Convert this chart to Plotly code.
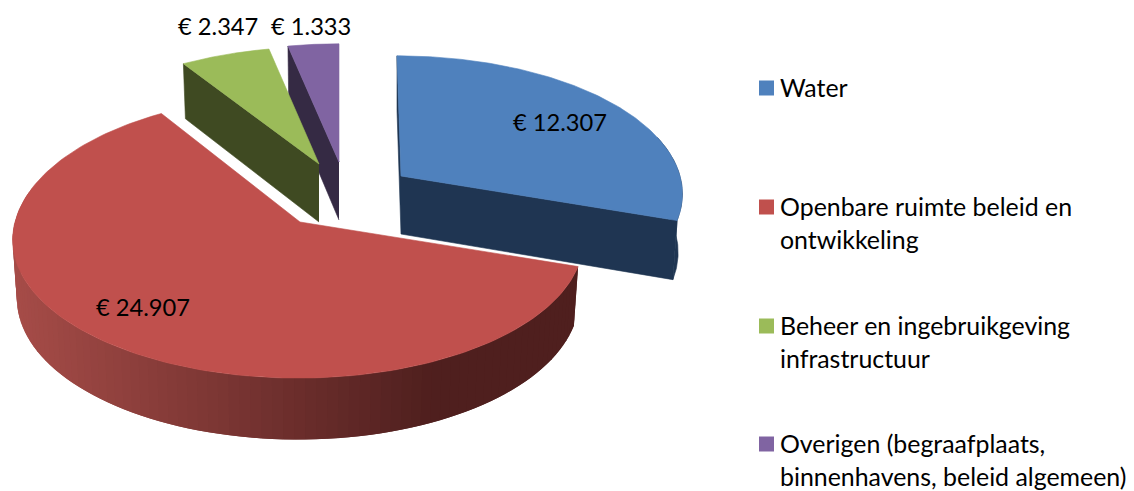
import numpy as np
import plotly.graph_objects as go

# --- data ---
categories = ["Water", "Openbare ruimte beleid en ontwikkeling",
              "Beheer en ingebruikgeving infrastructuur",
              "Overigen (begraafplaats, binnenhavens, beleid algemeen)"]
values = [12307, 24907, 2347, 1333]
legend_lines = [["Water"], ["Openbare ruimte beleid en", "ontwikkeling"],
                ["Beheer en ingebruikgeving", "infrastructuur"],
                ["Overigen (begraafplaats,", "binnenhavens, beleid algemeen)"]]
top_colors = ["#4f81bd", "#c0504d", "#9bbb59", "#8064a2"]
side_colors = ["#1f3552", "#4f1f1e", "#3f4a22", "#352a44"]

# --- layout of the exploded 3D pie (projection parameters, in pixels) ---
W, H = 1134, 491
RX, RY, PERSP, DEPTH, BOTTOM_SHRINK = 283.0, 135.8, 0.13, 58.0, 0.985
ARC_CENTER = [(397, 176), (298, 222), (320, 167), (339, 164)]
APEX = [(401, 176), (300, 222), (319, 164), (339, 162)]
BACK_STRETCH = [0.0, 0.05, 0.0, 0.0]
LABEL_POS = [(559.5, 121.5), (143, 306.5), (217.5, 25.5), (310.5, 25.5)]
SWATCH_X, TEXT_X, LINE_H = 766.5, 780, 33.5
LEGEND_Y = [88, 207, 326, 444]
TEXT_DY = -1.5
FONT = "Lato, Carlito, Calibri, sans-serif"
LABEL_SIZE = 23.7
LEGEND_SIZE = 24.9

total = sum(values)
edges = np.concatenate([[0], np.cumsum(values)]) / total * 2 * np.pi


def top(t, c, i=0):
    u, v = np.sin(t), np.cos(t)
    s = 1 / (1 + PERSP * v)
    stretch = 1 + BACK_STRETCH[i] * (v > 0)
    return c[0] + RX * u * s, c[1] - RY * v * s * stretch


def bottom(t, c, i=0):
    u, v = np.sin(t), np.cos(t)
    s = 1 / (1 + PERSP * v)
    stretch = 1 + BACK_STRETCH[i] * (v > 0)
    return (c[0] + RX * u * s * BOTTOM_SHRINK,
            c[1] - RY * v * s * stretch + DEPTH * (1 - 0.06 * v))


def poly(fig, xs, ys, color, lw=0.6):
    fig.add_trace(go.Scatter(
        x=list(xs), y=list(ys), mode="lines", fill="toself", fillcolor=color,
        line=dict(color=color, width=lw), hoverinfo="skip", showlegend=False))


def lerp_color(a, b, f):
    return "rgb(%d,%d,%d)" % tuple(int(round(a[i] + (b[i] - a[i]) * f)) for i in range(3))


fig = go.Figure()


def cut_face(i, t):
    ac, ap = ARC_CENTER[i], APEX[i]
    x1, y1 = top(t, ac, i)
    x2, y2 = bottom(t, ac, i)
    poly(fig, [ap[0], x1, x2, ap[0]], [ap[1], y1, y2, ap[1] + DEPTH], side_colors[i])


def slice_top(i):
    ac, ap = ARC_CENTER[i], APEX[i]
    t = np.linspace(edges[i], edges[i + 1], 160)
    x, y = top(t, ac, i)
    poly(fig, [ap[0], *x, ap[0]], [ap[1], *y, ap[1]], top_colors[i])


def wall(i, t0, t1):
    ts = np.linspace(t0, t1, 60)
    xa, ya = top(ts, ARC_CENTER[i], i)
    xb, yb = bottom(ts, ARC_CENTER[i], i)
    poly(fig, [*xa, *xb[::-1]], [*ya, *yb[::-1]], side_colors[i])


def gradient_wall(i, t0, t1, n=90):
    # painted from the left (light) end to the right, each strip overlapping the
    # next one so that no anti-aliased seams appear
    ac = ARC_CENTER[i]
    ts = np.linspace(t1, t0, n + 1)
    for k in range(n):
        seg = np.linspace(ts[k], ts[min(k + 2, n)], 6)
        xa, ya = top(seg, ac, i)
        xb, yb = bottom(seg, ac, i)
        xm = (xa[0] + xa[2] + xb[0] + xb[2]) / 4
        f = np.clip((xm - 15) / (430 - 15), 0, 1)
        poly(fig, [*xa, *xb[::-1]], [*ya, *yb[::-1]],
             lerp_color((166, 76, 72), (79, 31, 30), f), lw=0)


# purple and green (back), then blue, then red in front
cut_face(3, edges[3])
slice_top(3)
cut_face(2, edges[2])
slice_top(2)
cut_face(0, edges[0])
cut_face(0, edges[1])
wall(0, np.pi / 2 - 0.3, edges[1])
slice_top(0)
gradient_wall(1, edges[1], 3 * np.pi / 2 + 0.25)
slice_top(1)

# legend swatches
fig.add_trace(go.Scatter(
    x=[SWATCH_X] * 4, y=LEGEND_Y, mode="markers",
    marker=dict(symbol="square", size=15, color=top_colors, line=dict(width=0)),
    hoverinfo="skip", showlegend=False))

annotations = []
for v, (lx, ly) in zip(values, LABEL_POS):
    annotations.append(dict(x=lx, y=ly, text="€ " + f"{v:,}".replace(",", "."),
                            showarrow=False, xanchor="center", yanchor="middle",
                            font=dict(family=FONT, size=LABEL_SIZE, color="#000000")))
for lines, y0 in zip(legend_lines, LEGEND_Y):
    for k, line in enumerate(lines):
        annotations.append(dict(x=TEXT_X, y=y0 + TEXT_DY + k * LINE_H, text=line,
                                showarrow=False, xanchor="left", yanchor="middle",
                                xshift=-2,
                                font=dict(family=FONT, size=LEGEND_SIZE, color="#000000")))

fig.update_layout(
    width=W, height=H, margin=dict(l=0, r=0, t=0, b=0),
    paper_bgcolor="white", plot_bgcolor="white", showlegend=False,
    xaxis=dict(range=[0, W], visible=False, fixedrange=True),
    yaxis=dict(range=[H, 0], visible=False, fixedrange=True),
    annotations=annotations)

fig.write_html("out.html", config=dict(displayModeBar=False),
               post_script="document.body.style.margin='0';document.documentElement.style.overflow='hidden';")
